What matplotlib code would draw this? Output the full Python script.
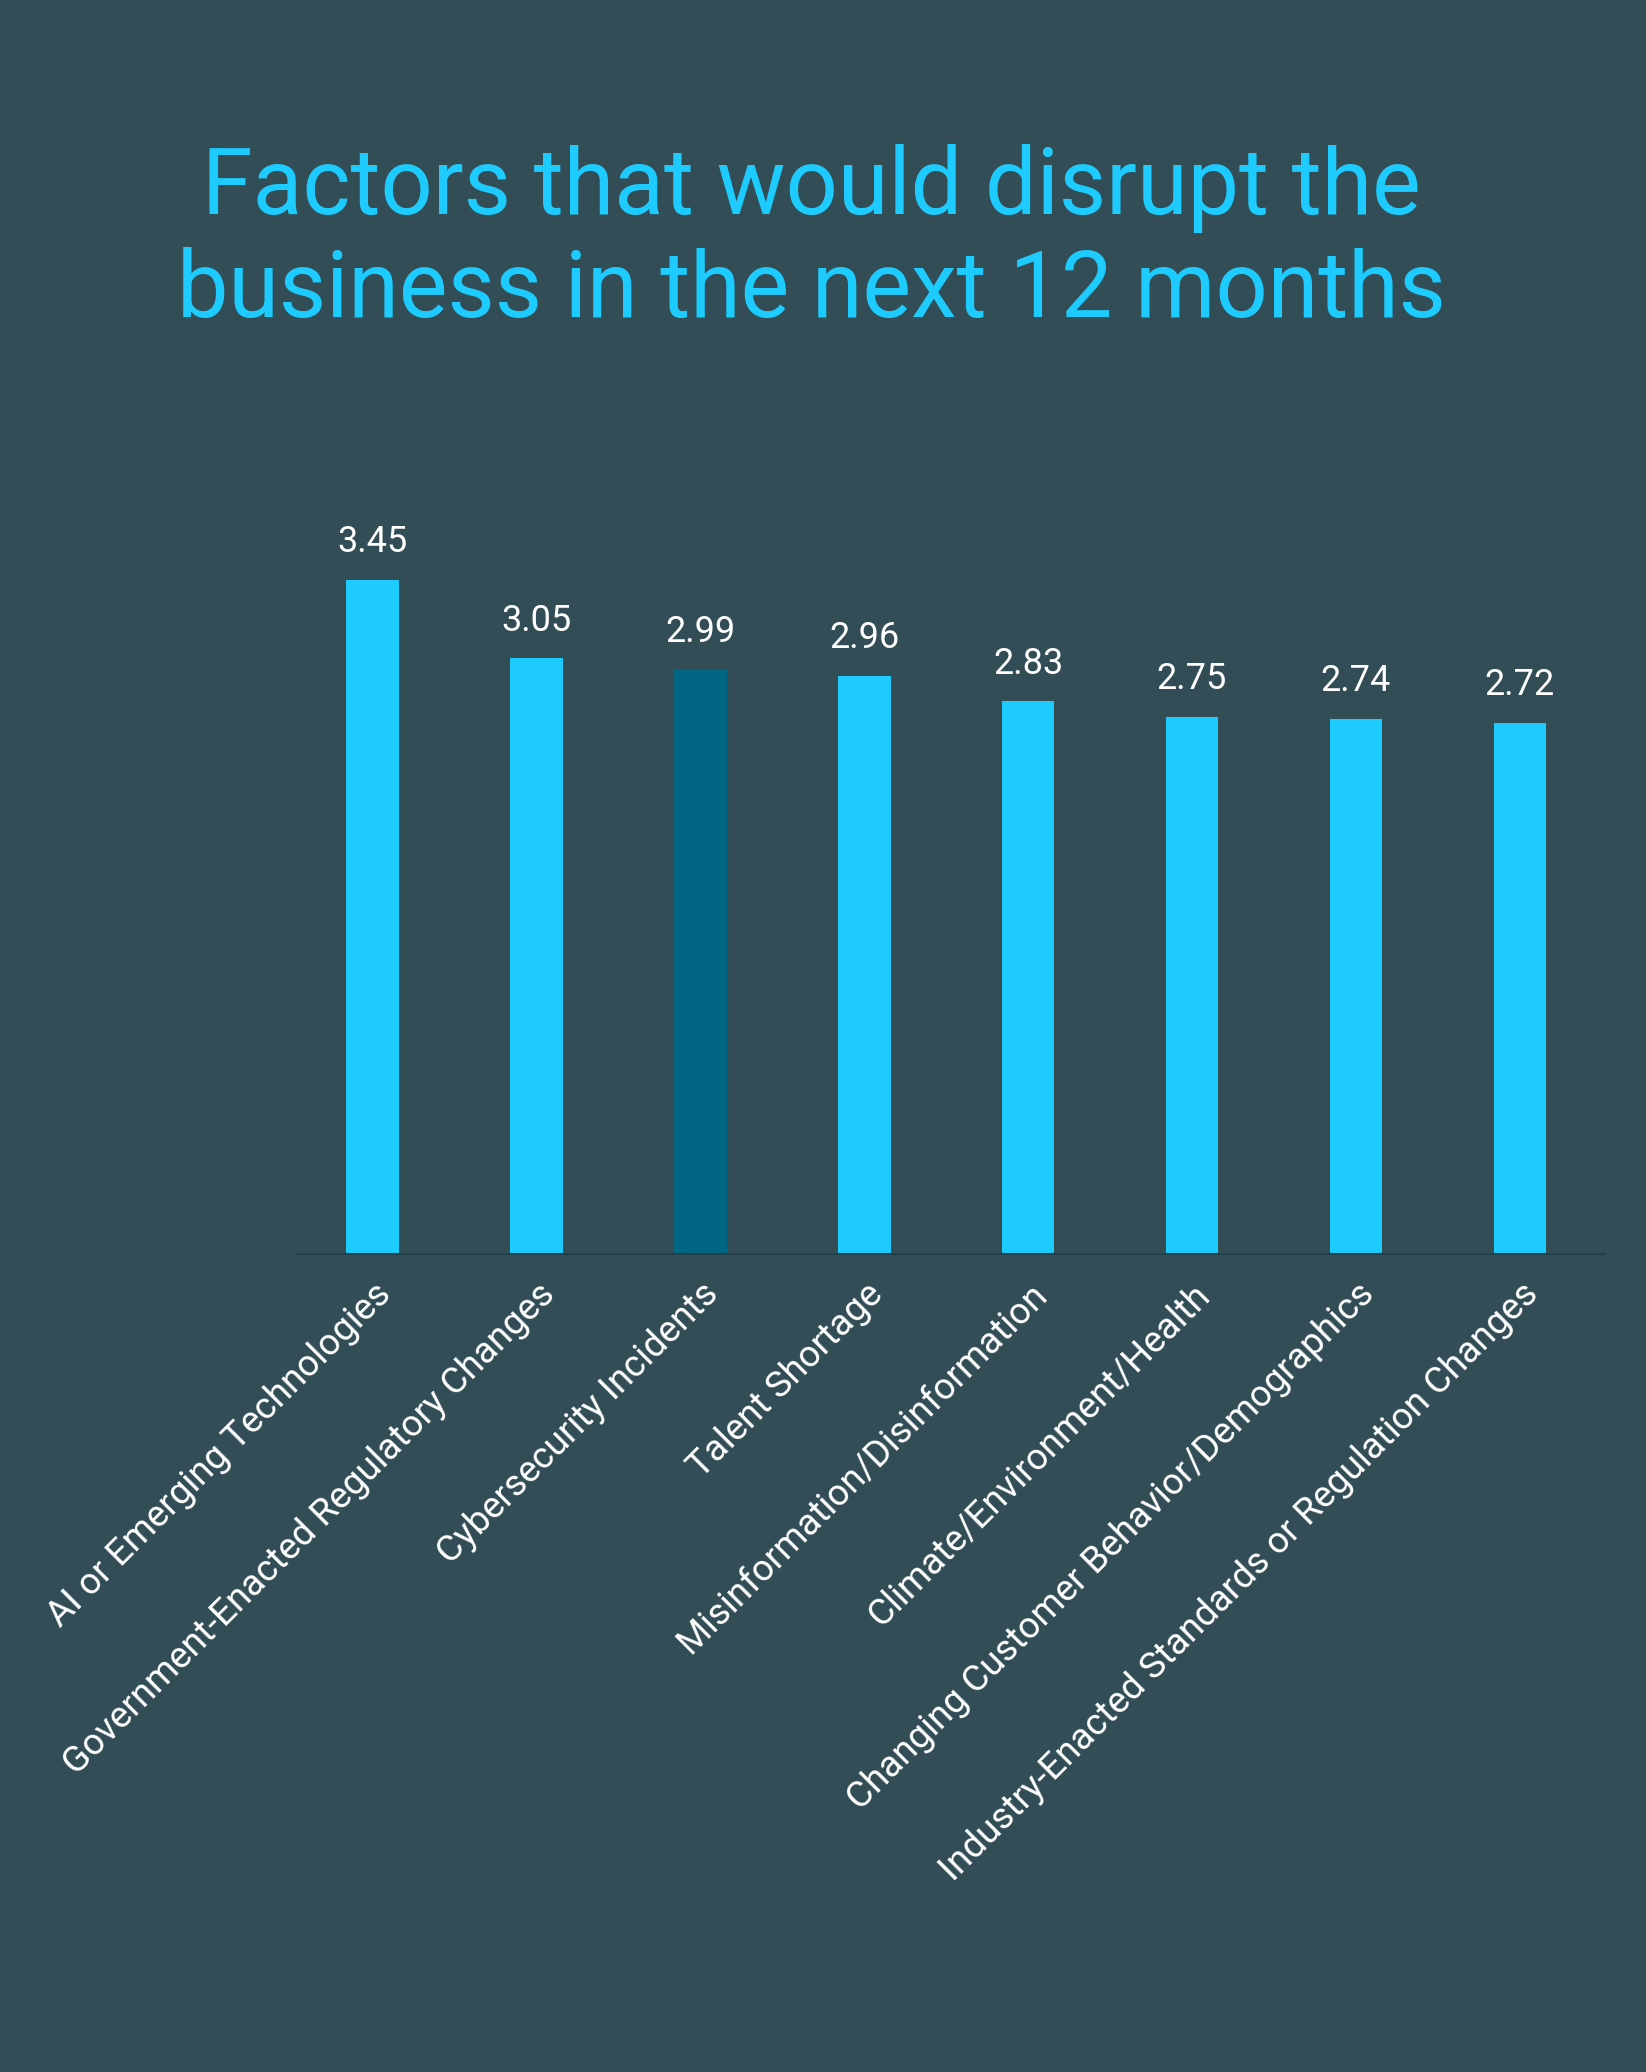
import matplotlib
matplotlib.use("Agg")
import matplotlib.pyplot as plt

categories = ["AI or Emerging Technologies", "Government-Enacted Regulatory Changes",
              "Cybersecurity Incidents", "Talent Shortage", "Misinformation/Disinformation",
              "Climate/Environment/Health", "Changing Customer Behavior/Demographics",
              "Industry-Enacted Standards or Regulation Changes"]
values = [3.45, 3.05, 2.99, 2.96, 2.83, 2.75, 2.74, 2.72]
colors = ["#1ECBFF", "#1ECBFF", "#006684", "#1ECBFF", "#1ECBFF", "#1ECBFF", "#1ECBFF", "#1ECBFF"]
title = "Factors that would disrupt the\nbusiness in the next 12 months"

bg = "#324D56"
plt.rcParams['font.family'] = ['Roboto', 'DejaVu Sans']
fig = plt.figure(figsize=(16.46, 20.72), dpi=100, facecolor=bg)
ax = fig.add_axes([0.1806, 0.3948, 0.7945, 0.363], facecolor=bg)
x = list(range(len(categories)))
ax.bar(x, values, width=0.32, color=colors, zorder=2)
for xi, v in zip(x, values):
    ax.text(xi, v + 0.1, f"{v:.2f}", ha="center", va="bottom", color="white", fontsize=26)
ax.set_xlim(-0.46, 7.52)
ax.set_ylim(0, 3.85)
for s in ["top", "right", "left"]:
    ax.spines[s].set_visible(False)
ax.spines["bottom"].set_color("#22404A")
ax.spines["bottom"].set_linewidth(1.5)
ax.set_yticks([])
ax.set_xticks(x)
ax.set_xticklabels(categories, rotation=45, ha="right", rotation_mode="anchor",
                   color="white", fontsize=26.5)
ax.tick_params(axis="x", length=0, pad=16)
fig.text(0.493, 0.884, title, ha="center", va="center", color="#1ECBFF",
         fontsize=66, linespacing=1.2)
fig.savefig("out.png", facecolor=bg)
